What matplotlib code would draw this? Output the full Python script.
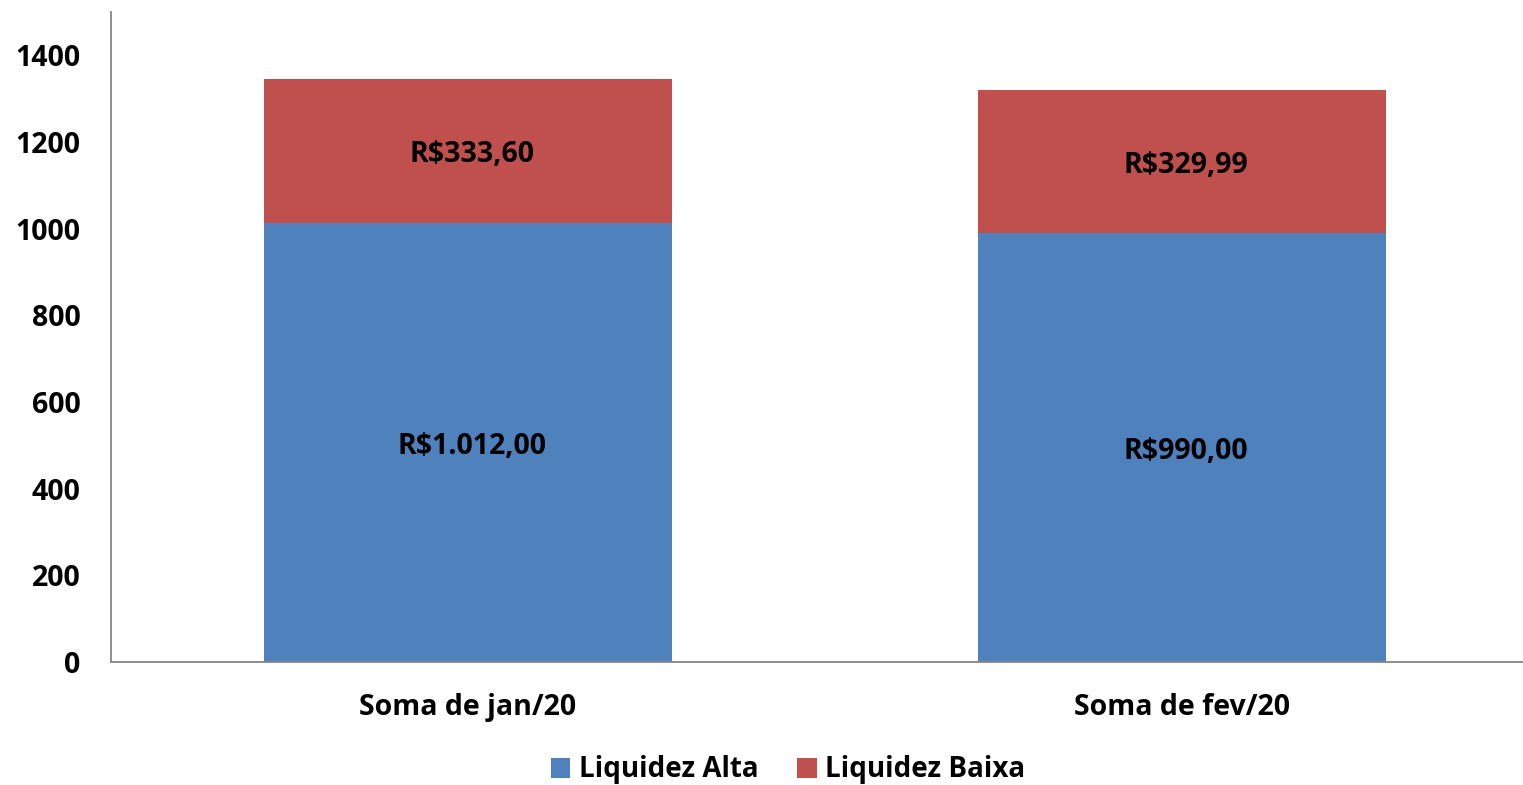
import matplotlib
matplotlib.use('Agg')
import matplotlib.pyplot as plt
import numpy as np

# data
categories = ['Soma de jan/20', 'Soma de fev/20']
liquidez_alta = [1012.00, 990.00]
liquidez_baixa = [333.60, 329.99]
labels_alta = ['R$1.012,00', 'R$990,00']
labels_baixa = ['R$333,60', 'R$329,99']
yticks = [0, 200, 400, 600, 800, 1000, 1200, 1400]

plt.rcParams['font.family'] = ['Open Sans', 'DejaVu Sans']
plt.rcParams['font.weight'] = 'bold'

blue = '#4F81BD'
red = '#C0504D'
grey = '#868686'
fs = 20.5

fig = plt.figure(figsize=(15.23, 7.85), dpi=100)
ax = fig.add_axes([111/1523, 1 - 662/785, 1 - 111/1523, (662 - 12)/785])

x = np.arange(len(categories))
w = 0.571
b1 = ax.bar(x, liquidez_alta, w, color=blue, label='Liquidez Alta')
b2 = ax.bar(x, liquidez_baixa, w, bottom=liquidez_alta, color=red, label='Liquidez Baixa')

for i in range(len(categories)):
    ax.text(x[i] + 0.005, liquidez_alta[i] / 2, labels_alta[i], ha='center', va='center_baseline',
            fontsize=fs, fontweight='bold')
    ax.text(x[i] + 0.005, liquidez_alta[i] + liquidez_baixa[i] / 2, labels_baixa[i],
            ha='center', va='center_baseline', fontsize=fs, fontweight='bold')

ax.set_xlim(-0.5, 1.4776)
ax.set_ylim(0, 1500)
ax.set_yticks(yticks)
ax.set_yticklabels([str(v) for v in yticks], fontsize=fs, fontweight='bold')
ax.set_xticks(x)
ax.set_xticklabels(categories, fontsize=fs, fontweight='bold')
ax.tick_params(axis='y', length=0, pad=22)
ax.tick_params(axis='x', length=0, pad=22)

for s in ['top', 'right']:
    ax.spines[s].set_visible(False)
for s in ['left', 'bottom']:
    ax.spines[s].set_color(grey)
    ax.spines[s].set_linewidth(1.3)

leg = fig.legend(handles=[b1, b2], loc='center', bbox_to_anchor=(788/1523, 1 - 770/785),
                 ncol=2, frameon=False, prop={'size': 20, 'weight': 'bold'},
                 handlelength=0.7, handleheight=0.7, handletextpad=0.3, columnspacing=1.4)

fig.savefig('out.png', dpi=100)
